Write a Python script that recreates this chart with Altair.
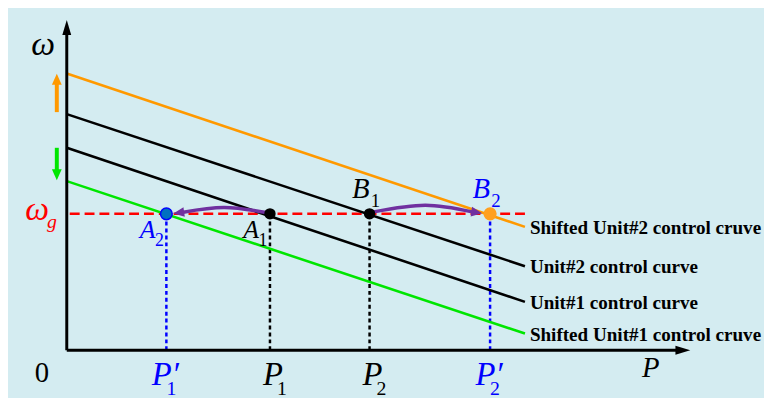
import altair as alt
import pandas as pd

# ---------------- values ----------------
curve_names = ["Shifted Unit#2 control cruve", "Unit#2 control curve",
               "Unit#1 control curve", "Shifted Unit#1 control  cruve"]
curve_w_start = [8.30, 7.08, 6.07, 5.07]   # omega at P = 0
curve_w_end = [3.70, 2.52, 1.45, 0.50]     # omega at P = curve_P_end
curve_P_end = 4.60
omega_g = 4.09
omega_g_P_end = 4.60

op_names = ["A", "A", "B", "B"]            # operating points
op_subs = ["2", "1", "1", "2"]
op_P = [1.00, 2.04, 3.04, 4.25]

tick_main = ["P′", "P", "P", "P′"]          # labels under the P axis
tick_subs = ["1", "1", "2", "2"]

axis_P_max = 6.26
axis_w_max = 9.90

shift_P = -0.10
shift_up = [7.14, 8.29]      # shaft start, tip
shift_down = [6.07, 5.10]

arcA_P = [2.00, 1.58, 1.17]
arcA_w = [4.13, 4.28, 4.14]
arcA_tip = [1.07, 4.10]
arcB_P = [3.08, 3.60, 4.07]
arcB_w = [4.15, 4.35, 4.15]
arcB_tip = [4.17, 4.11]

# ---------------- styles ----------------
BG = "#d4ecf1"
ORANGE = "#ff9900"
GREEN = "#00e600"
BLUE = "#0000ff"
RED = "#ff0000"
PURPLE = "#7030a0"
SERIF = "Liberation Serif"
curve_colors = [ORANGE, "black", "black", GREEN]
op_color = {"A2": BLUE, "A1": "black", "B1": "black", "B2": BLUE}
op_fill = {"A2": "#0070c0", "A1": "black", "B1": "black", "B2": "#ffa020"}
op_stroke = {"A2": BLUE, "A1": "black", "B1": "black", "B2": "#ffa020"}
op_size = {"A2": 140, "A1": 100, "B1": 100, "B2": 140}
tick_color = {0: BLUE, 1: "black", 2: "black", 3: BLUE}

W, H = 764, 390
XD = [-0.59, 7.0]
YD = [-1.37, 10.2]
PX_Y = H / (YD[1] - YD[0])
PX_X = W / (XD[1] - XD[0])

xs = alt.Scale(domain=XD, nice=False, zero=False)
ys = alt.Scale(domain=YD, nice=False, zero=False)


def X(f="P"):
    return alt.X(f"{f}:Q", scale=xs, axis=None)


def Y(f="w"):
    return alt.Y(f"{f}:Q", scale=ys, axis=None)


HEAD = "M0,0L0.3,1L-0.3,1Z"        # arrowhead pointing up, tip at origin
HEAD_W = "M0,0L0.45,1L-0.45,1Z"

# ---------------- axes ----------------
ax_len = 15
axes_df = pd.DataFrame({
    "P": [0.0, 0.0], "w": [0.0, 0.0],
    "P2": [0.0, axis_P_max - ax_len * 0.7 / PX_X],
    "w2": [axis_w_max - ax_len * 0.7 / PX_Y, 0.0],
})
axes = alt.Chart(axes_df).mark_rule(color="black", strokeWidth=3).encode(
    x=X(), y=Y(), x2="P2:Q", y2="w2:Q")
heads_df = pd.DataFrame({"P": [0.0, axis_P_max], "w": [axis_w_max, 0.0], "a": [0, 90]})
axis_heads = alt.Chart(heads_df).mark_point(
    shape=HEAD, filled=True, color="black", opacity=1, size=(2 * ax_len) ** 2
).encode(x=X(), y=Y(), angle=alt.Angle("a:Q", scale=None))

# ---------------- control curves ----------------
rows = []
for n, a, b in zip(curve_names, curve_w_start, curve_w_end):
    rows.append({"curve": n, "P": 0.0, "w": a, "o": 0})
    rows.append({"curve": n, "P": curve_P_end, "w": b, "o": 1})
curves_df = pd.DataFrame(rows)
cscale = alt.Scale(domain=curve_names, range=curve_colors)
curves = alt.Chart(curves_df).mark_line(strokeWidth=2.6).encode(
    x=X(), y=Y(), order="o:Q",
    color=alt.Color("curve:N", scale=cscale, legend=None))
curve_lbl_df = pd.DataFrame({"curve": curve_names, "P": [curve_P_end] * 4, "w": curve_w_end})
curve_labels = alt.Chart(curve_lbl_df).mark_text(
    align="left", baseline="middle", dx=5, dy=1, font=SERIF, fontWeight="bold",
    fontSize=19.3, color="black").encode(x=X(), y=Y(), text="curve:N")

# ---------------- omega_g line and projections ----------------
wg_df = pd.DataFrame({"P": [0.03], "P2": [omega_g_P_end], "w": [omega_g]})
wg_line = alt.Chart(wg_df).mark_rule(color=RED, strokeWidth=2.5, strokeDash=[10, 5]).encode(
    x=X(), x2="P2:Q", y=Y())

op_df = pd.DataFrame({"name": op_names, "sub": op_subs, "P": op_P, "w": [omega_g] * 4})
op_df["key"] = op_df["name"] + op_df["sub"]
op_df["col"] = op_df["key"].map(op_color)
op_df["fill"] = op_df["key"].map(op_fill)
op_df["stroke"] = op_df["key"].map(op_stroke)
op_df["sz"] = op_df["key"].map(op_size)
op_df["w0"] = 0.0

drops = alt.Chart(op_df).mark_rule(strokeWidth=2.5, strokeDash=[4, 3]).encode(
    x=X(), y=Y("w0"), y2="w:Q", color=alt.Color("col:N", scale=None))

# ---------------- transfer arcs ----------------
arc_df = pd.DataFrame({
    "arc": ["A"] * 3 + ["B"] * 3,
    "P": arcA_P + arcB_P, "w": arcA_w + arcB_w, "o": [0, 1, 2] * 2})
arcs = alt.Chart(arc_df).mark_line(
    color=PURPLE, strokeWidth=3.5, interpolate="natural", strokeCap="round").encode(
    x=X(), y=Y(), detail="arc:N", order="o:Q")
arc_tip_df = pd.DataFrame({"P": [arcA_tip[0], arcB_tip[0]], "w": [arcA_tip[1], arcB_tip[1]],
                           "a": [262, 98]})
arc_heads = alt.Chart(arc_tip_df).mark_point(
    shape=HEAD_W, filled=True, color=PURPLE, opacity=1, size=(2 * 11) ** 2).encode(
    x=X(), y=Y(), angle=alt.Angle("a:Q", scale=None))

# ---------------- shift arrows on the omega axis ----------------
hl = 11
sh_df = pd.DataFrame({
    "P": [shift_P, shift_P],
    "w": [shift_up[0], shift_down[0]],
    "w2": [shift_up[1] - hl * 0.6 / PX_Y, shift_down[1] + hl * 0.6 / PX_Y],
    "c": [ORANGE, GREEN]})
shafts = alt.Chart(sh_df).mark_rule(strokeWidth=4).encode(
    x=X(), y=Y(), y2="w2:Q", color=alt.Color("c:N", scale=None))
sh_head_df = pd.DataFrame({"P": [shift_P, shift_P], "w": [shift_up[1], shift_down[1]],
                           "a": [0, 180], "c": [ORANGE, GREEN]})
sh_heads = alt.Chart(sh_head_df).mark_point(
    shape=HEAD_W, filled=True, opacity=1, size=(2 * hl) ** 2).encode(
    x=X(), y=Y(), angle=alt.Angle("a:Q", scale=None),
    color=alt.Color("c:N", scale=None))

# ---------------- operating points ----------------
points = alt.Chart(op_df).mark_point(filled=True, opacity=1, strokeWidth=1.5).encode(
    x=X(), y=Y(), fill=alt.Fill("fill:N", scale=None),
    stroke=alt.Stroke("stroke:N", scale=None), size=alt.Size("sz:Q", scale=None),
    shape=alt.value("circle"))

ital = dict(font=SERIF, fontStyle="italic")
A_df = op_df[op_df["name"] == "A"]
B_df = op_df[op_df["name"] == "B"]
A_main = alt.Chart(A_df).mark_text(fontSize=26, dx=-19, dy=24, baseline="alphabetic", **ital).encode(
    x=X(), y=Y(), text="name:N", color=alt.Color("col:N", scale=None))
A_sub = alt.Chart(A_df).mark_text(fontSize=18, dx=-7, dy=32, baseline="alphabetic", font=SERIF).encode(
    x=X(), y=Y(), text="sub:N", color=alt.Color("col:N", scale=None))
B_main = alt.Chart(B_df).mark_text(fontSize=29, dx=-9, dy=-16, baseline="alphabetic", **ital).encode(
    x=X(), y=Y(), text="name:N", color=alt.Color("col:N", scale=None))
B_sub = alt.Chart(B_df).mark_text(fontSize=19, dx=6, dy=-7, baseline="alphabetic", font=SERIF).encode(
    x=X(), y=Y(), text="sub:N", color=alt.Color("col:N", scale=None))

# ---------------- P tick labels ----------------
tk_df = pd.DataFrame({"main": tick_main, "sub": tick_subs, "P": op_P, "w": [0.0] * 4})
tk_df["col"] = [tick_color[i] for i in range(4)]
tk_prime = tk_df[tk_df["main"].str.contains("′")]
tk_plain = tk_df[~tk_df["main"].str.contains("′")]
tk_layers = []
for d, mdx, sdx in [(tk_prime, -1, 5), (tk_plain, 3, 12)]:
    tk_layers.append(alt.Chart(d).mark_text(fontSize=33, dx=mdx, dy=35, baseline="alphabetic", **ital).encode(
        x=X(), y=Y(), text="main:N", color=alt.Color("col:N", scale=None)))
    tk_layers.append(alt.Chart(d).mark_text(fontSize=20, dx=sdx, dy=45, baseline="alphabetic", font=SERIF).encode(
        x=X(), y=Y(), text="sub:N", color=alt.Color("col:N", scale=None)))

# ---------------- axis titles ----------------
t_df = pd.DataFrame({"P": [0.0], "w": [axis_w_max], "t": ["ω"]})
w_title = alt.Chart(t_df).mark_text(fontSize=34, dx=-24, dy=35, baseline="alphabetic", color="black", **ital).encode(
    x=X(), y=Y(), text="t:N")
p_df = pd.DataFrame({"P": [axis_P_max], "w": [0.0], "t": ["P"]})
p_title = alt.Chart(p_df).mark_text(fontSize=29, dx=-40, dy=27, baseline="alphabetic", color="black", **ital).encode(
    x=X(), y=Y(), text="t:N")
o_df = pd.DataFrame({"P": [0.0], "w": [0.0], "t": ["0"]})
o_title = alt.Chart(o_df).mark_text(fontSize=29, dx=-25, dy=32, baseline="alphabetic", color="black", font=SERIF).encode(
    x=X(), y=Y(), text="t:N")
g_df = pd.DataFrame({"P": [0.0], "w": [omega_g], "t": ["ω"], "s": ["g"]})
wg_main = alt.Chart(g_df).mark_text(fontSize=34, dx=-30, dy=6, baseline="alphabetic", color=RED, **ital).encode(
    x=X(), y=Y(), text="t:N")
wg_sub = alt.Chart(g_df).mark_text(fontSize=20, dx=-15, dy=14, baseline="alphabetic", color=RED, **ital).encode(
    x=X(), y=Y(), text="s:N")

chart = alt.layer(
    wg_line, drops, curves, axes, axis_heads, shafts, sh_heads, arcs, arc_heads, points,
    curve_labels, A_main, A_sub, B_main, B_sub, *tk_layers,
    w_title, p_title, o_title, wg_main, wg_sub,
).properties(
    width=W, height=H, background=BG, padding=0,
    autosize=alt.AutoSizeParams(type="none"),
).configure_view(stroke=None)

chart.save("out.html", embed_options={"renderer": "svg", "actions": False})
